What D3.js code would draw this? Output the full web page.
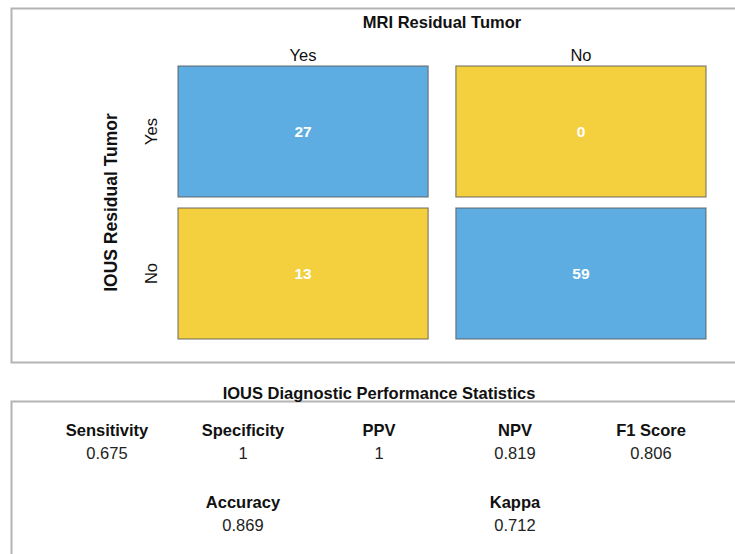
<!DOCTYPE html>
<html>
<head>
<meta charset="utf-8">
<script src="https://cdn.jsdelivr.net/npm/d3@7"></script>
<style>
  body { margin: 0; background: #fff; }
  svg { display: block; font-family: "Liberation Sans", Arial, sans-serif; }
</style>
</head>
<body>
<div id="chart"></div>
<script>
// confusion matrix: rows = IOUS, columns = MRI
const mriLabels = ["Yes", "No"];
const iousLabels = ["Yes", "No"];
const counts = [
  [27, 0],
  [13, 59]
];

// performance statistics
const statRow1 = ["Sensitivity", "Specificity", "PPV", "NPV", "F1 Score"];
const statRow1Values = ["0.675", "1", "1", "0.819", "0.806"];
const statRow2 = ["Accuracy", "Kappa"];
const statRow2Values = ["0.869", "0.712"];
const statRow2Cols = [1, 3];

const width = 735, height = 554;
const blue = "#5DADE2", yellow = "#F4D03F";

const svg = d3.select("#chart").append("svg")
  .attr("width", width)
  .attr("height", height);

// panel frames
svg.append("rect")
  .attr("x", 11.5).attr("y", 8.5)
  .attr("width", 740).attr("height", 354)
  .attr("fill", "none").attr("stroke", "#b4b4b4").attr("stroke-width", 2);
svg.append("rect")
  .attr("x", 11.5).attr("y", 401.5)
  .attr("width", 740).attr("height", 200)
  .attr("fill", "none").attr("stroke", "#b4b4b4").attr("stroke-width", 2);

// ---- matrix ----
const x = d3.scaleBand(mriLabels, [178, 706]).paddingInner(0.1).paddingOuter(0);
const y = d3.scaleBand(iousLabels, [66, 339]).paddingInner(0.0775).paddingOuter(0);

const cells = [];
counts.forEach((row, i) => row.forEach((v, j) => cells.push({
  row: iousLabels[i], col: mriLabels[j], value: v, correct: i === j
})));

const g = svg.append("g");

g.selectAll("rect.cell")
  .data(cells)
  .join("rect")
  .classed("cell", true)
  .attr("x", d => x(d.col))
  .attr("y", d => y(d.row))
  .attr("width", x.bandwidth())
  .attr("height", y.bandwidth())
  .attr("fill", d => d.correct ? blue : yellow)
  .attr("stroke", "#5a5a5a")
  .attr("stroke-opacity", 0.75)
  .attr("stroke-width", 1.2);

g.selectAll("text.count")
  .data(cells)
  .join("text")
  .classed("count", true)
  .attr("x", d => x(d.col) + x.bandwidth() / 2)
  .attr("y", d => y(d.row) + y.bandwidth() / 2)
  .attr("dy", "0.36em")
  .attr("text-anchor", "middle")
  .attr("fill", "#fff")
  .attr("font-weight", "bold")
  .attr("font-size", 15.5)
  .text(d => d.value);

// column labels (top axis)
g.selectAll("text.colLabel")
  .data(mriLabels)
  .join("text")
  .classed("colLabel", true)
  .attr("x", d => x(d) + x.bandwidth() / 2)
  .attr("y", 61)
  .attr("text-anchor", "middle")
  .attr("font-size", 16.5)
  .attr("fill", "#111")
  .text(d => d);

// row labels (rotated)
g.selectAll("text.rowLabel")
  .data(iousLabels)
  .join("text")
  .classed("rowLabel", true)
  .attr("transform", d => `translate(156.5,${y(d) + y.bandwidth() / 2}) rotate(-90)`)
  .attr("text-anchor", "middle")
  .attr("font-size", 16.5)
  .attr("fill", "#111")
  .text(d => d);

// titles
svg.append("text")
  .attr("x", (x.range()[0] + x.range()[1]) / 2)
  .attr("y", 28)
  .attr("text-anchor", "middle")
  .attr("font-weight", "bold")
  .attr("font-size", 16.5)
  .attr("fill", "#111")
  .text("MRI Residual Tumor");

svg.append("text")
  .attr("transform", `translate(117,${(y.range()[0] + y.range()[1]) / 2}) rotate(-90)`)
  .attr("text-anchor", "middle")
  .attr("font-weight", "bold")
  .attr("font-size", 17.5)
  .attr("fill", "#111")
  .text("IOUS Residual Tumor");

// ---- statistics panel ----
svg.append("text")
  .attr("x", 379)
  .attr("y", 398.5)
  .attr("text-anchor", "middle")
  .attr("font-weight", "bold")
  .attr("font-size", 16.5)
  .attr("fill", "#111")
  .text("IOUS Diagnostic Performance Statistics");

const sx = d3.scaleBand(d3.range(5), [39, 719]);
const sy = d3.scaleOrdinal([0, 1], [436, 508]);

const stats = statRow1.map((n, i) => ({ name: n, value: statRow1Values[i], col: i, row: 0 }))
  .concat(statRow2.map((n, i) => ({ name: n, value: statRow2Values[i], col: statRow2Cols[i], row: 1 })));

const sg = svg.selectAll("g.stat")
  .data(stats)
  .join("g")
  .classed("stat", true)
  .attr("transform", d => `translate(${sx(d.col) + sx.bandwidth() / 2},${sy(d.row)})`);

sg.append("text")
  .attr("text-anchor", "middle")
  .attr("font-weight", "bold")
  .attr("font-size", 16.5)
  .attr("fill", "#111")
  .text(d => d.name);

sg.append("text")
  .attr("y", 23)
  .attr("text-anchor", "middle")
  .attr("font-size", 16.5)
  .attr("fill", "#222")
  .text(d => d.value);
</script>
</body>
</html>
